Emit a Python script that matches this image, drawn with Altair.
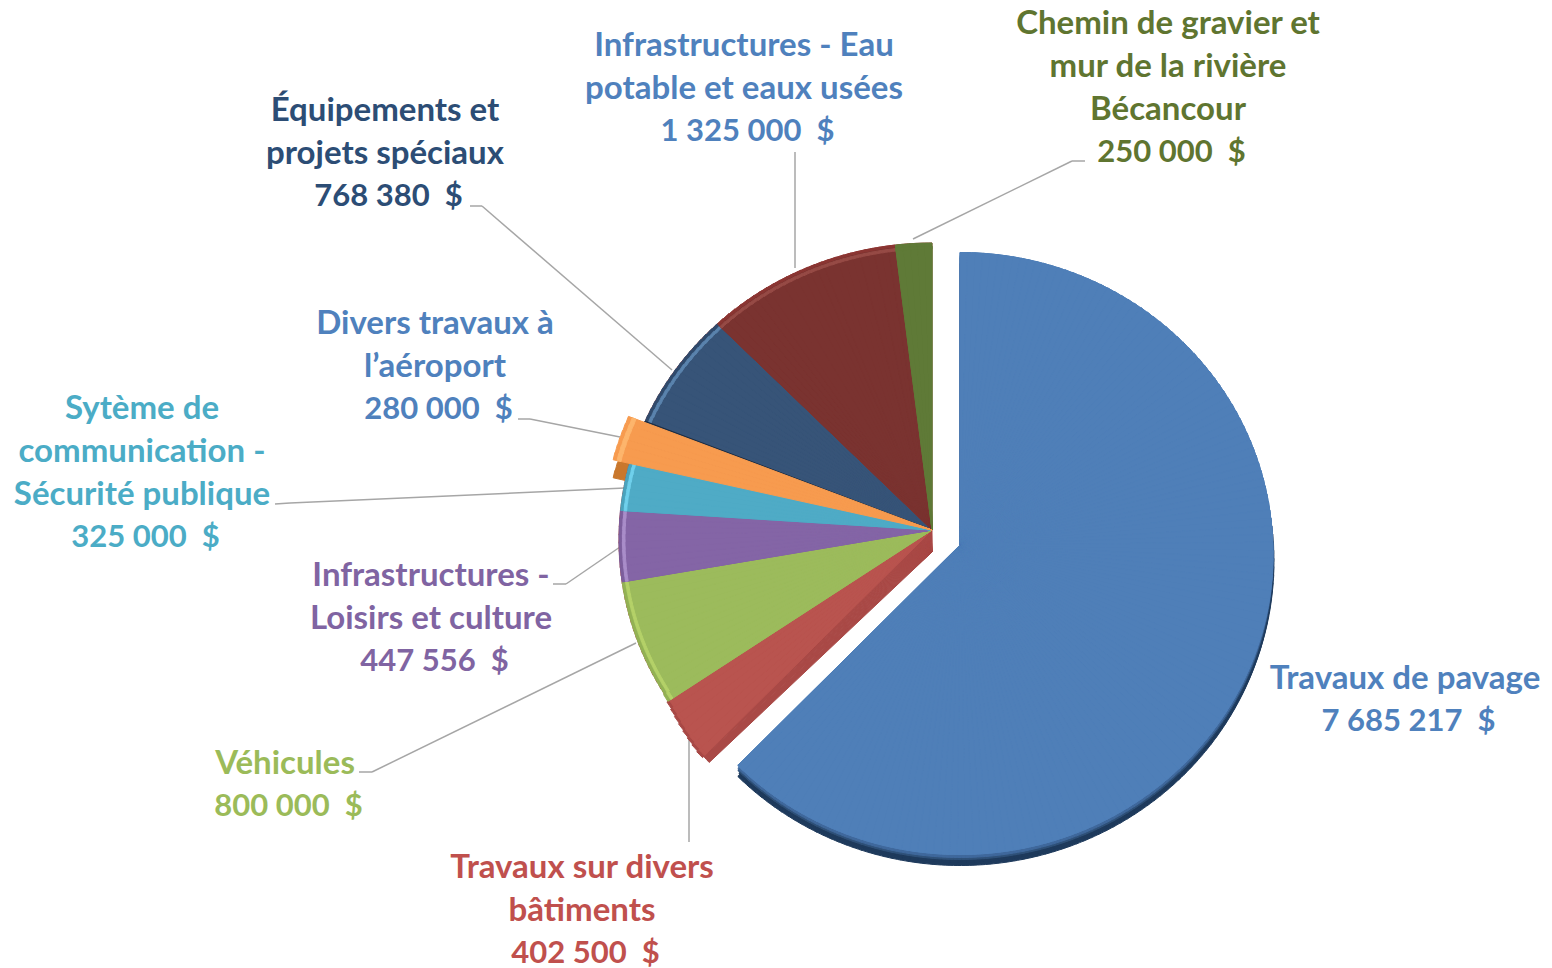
import math
import altair as alt
import pandas as pd

# ---- data -------------------------------------------------------------
names = [
    "Travaux de pavage",
    "Travaux sur divers\nbâtiments",
    "Véhicules",
    "Infrastructures -\nLoisirs et culture",
    "Sytème de\ncommunication -\nSécurité publique",
    "Divers travaux à\nl’aéroport",
    "Équipements et\nprojets spéciaux",
    "Infrastructures - Eau\npotable et eaux usées",
    "Chemin de gravier et\nmur de la rivière\nBécancour",
]
values = [7685217, 402500, 800000, 447556, 325000, 280000, 768380, 1325000, 250000]

# ---- styles ------------------------------------------------------------
face = ["#4f7fb8", "#b9544f", "#9cbb5c", "#8465a6", "#4fabc6", "#f79b4f", "#375478", "#7a3330", "#5f7a37"]
band = ["#4f7fb8", "#b9544f", "#b4d168", "#a98dc9", "#6fd0ec", "#fdb56c", "#5a83ad", "#964a45", "#5f7a37"]
edge = ["#4f7fb8", "#a84845", "#93b254", "#7c5e9c", "#4aa3bd", "#f0953f", "#2f4a6c", "#8a3532", "#5f7a37"]
text_col = ["#4f81bd", "#c0504d", "#9bbb59", "#8064a2", "#4bacc6", "#4f81bd", "#2c4d75", "#4f81bd", "#5f7530"]
label_xy = [(1405, 663), (582, 852), (285, 748), (431, 560), (142, 393), (435, 308), (385, 95), (744, 30), (1168, 8)]
FONT = "Lato"
FS = 33
FS_MONEY = 31
LH = 43
M = 8  # page margin

# leader lines: pairs of end points
leaders = [
    [(1085, 161), (1072, 161), (913, 239)],
    [(795, 152), (795, 268)],
    [(470, 206), (482, 206), (672, 370)],
    [(518, 419), (530, 419), (620, 437)],
    [(275, 504), (290, 503), (625, 488)],
    [(553, 584), (566, 584), (620, 547)],
    [(359, 772), (372, 772), (636, 643)],
    [(689, 842), (689, 740)],
]

TOTAL = sum(values)
starts = [sum(values[:i]) for i in range(len(values))]
THETA = alt.Scale(domain=[0, TOTAL], range=[0, 2 * math.pi])
DEG = TOTAL / 360.0


def ray(v, a, b, dy):
    """distance from the apex to an ellipse along the direction of value v"""
    th = 2 * math.pi * v / TOTAL
    s, c = math.sin(th), math.cos(th)
    A = (s / a) ** 2 + (c / b) ** 2
    B = 2 * c * dy / b ** 2
    C = (dy / b) ** 2 - 1
    return (-B + math.sqrt(B * B - 4 * A * C)) / (2 * A)


def bulge(v):
    """the pie's lower left looks larger: it is the part nearest the viewer"""
    d = v / DEG
    return max(0.0, (239 - d) / 13) * 11 if d > 220 else 0.0


def wedges(v0, v1, color, a=313, b=297, dy=10, out=0, inner=None, bulged=True):
    n = max(2, math.ceil((v1 - v0) / DEG / 1.5))
    rows = []
    for k in range(n):
        t0 = v0 + (v1 - v0) * k / n
        t1 = v0 + (v1 - v0) * (k + 1) / n
        mid = (t0 + t1) / 2
        r = ray(mid, a, b, dy) + (bulge(mid) if bulged else 0)
        rows.append({"t0": t0, "t1": t1, "r": r + out,
                     "r0": 0 if inner is None else r + inner, "c": color})
    return rows


def arcs(rows, cx, cy):
    return (
        alt.Chart(pd.DataFrame(rows))
        .mark_arc(strokeWidth=1)
        .encode(
            theta=alt.Theta("t0:Q", scale=THETA),
            theta2=alt.Theta2("t1:Q"),
            radius=alt.Radius("r:Q", scale=None),
            radius2=alt.Radius2("r0:Q"),
            color=alt.Color("c:N", scale=None),
            stroke=alt.Stroke("c:N", scale=None),
            x=alt.value(cx - M),
            y=alt.value(cy - M),
        )
    )


layers = []

# leader lines
for pts in leaders:
    for p, q in zip(pts, pts[1:]):
        layers.append(
            alt.Chart(pd.DataFrame({"k": [0]}))
            .mark_rule(color="#a6a6a6", strokeWidth=1.5)
            .encode(x=alt.value(p[0] - M), y=alt.value(p[1] - M),
                    x2=alt.value(q[0] - M), y2=alt.value(q[1] - M))
        )

# main slice, pulled out, with its dark rim
MX, MY = 960, 545
mk = dict(a=313, b=301, dy=8.5, bulged=False)
v0, v1 = starts[0], starts[0] + values[0]
layers.append(arcs(wedges(v0, v1, "#1e3a5c", **mk), MX, MY + 11))
layers.append(arcs(wedges(v0, v1, "#1e3a5c", **mk), MX + 1, MY + 8))
layers.append(arcs(wedges(v0, v1, "#2f5179", **mk), MX, MY + 5))
layers.append(arcs(wedges(v0, v1, "#3f689c", **mk), MX, MY + 3))
layers.append(arcs(wedges(v0, v1, face[0], **mk), MX, MY))
layers.append(arcs(wedges(v0, v1, face[0], **mk), MX, MY))

# rest of the pie
CX, CY = 932, 530
iR, iO, iN = 1, 5, 6
vO0 = starts[iO] - 0.7 * DEG
vO1 = starts[iO] + values[iO] - 0.8 * DEG
# orange slice's side: only its outer part shows
layers.append(arcs(wedges(vO0, vO1, "#c9772c", out=17, inner=-60), CX, CY + 18))
# bevel of the red slice, running parallel to the gap (the faces cover most of it)
layers.append(arcs(wedges(starts[iR] + 1.4 * DEG, TOTAL, "#a94946", dy=-12), CX, CY + 22))
rest = []
for i in range(1, len(values)):
    if i == iO:
        continue
    s, e = starts[i], starts[i] + values[i]
    if i == iN:
        s = vO1
    rest += wedges(s, e, edge[i])
    rest += wedges(s, e, face[i], out=-3)
    rest += wedges(s, e, band[i], out=-3.5, inner=-6)
layers.append(arcs(rest, CX, CY))
# orange slice with a thin dark edge against the navy one
layers.append(arcs(wedges(vO1 - 0.1 * DEG, vO1 + 0.25 * DEG, "#1f2f45"), CX, CY))
layers.append(
    arcs(wedges(vO0, vO1, face[iO], out=17)
         + wedges(vO0, vO1, band[iO], out=13, inner=9), CX, CY)
)

# labels
for n, v, c, (x, y) in zip(names, values, text_col, label_xy):
    money = f"{v:,}".replace(",", " ") + "\u00a0\u00a0$"
    lines = n.count("\n") + 1
    layers.append(
        alt.Chart(pd.DataFrame({"t": [n]}))
        .mark_text(font=FONT, fontSize=FS, fontWeight="bold", lineBreak="\n", lineHeight=LH,
                   align="center", baseline="top", color=c)
        .encode(text="t:N", x=alt.value(x - M), y=alt.value(y - M))
    )
    layers.append(
        alt.Chart(pd.DataFrame({"t": [money]}))
        .mark_text(font=FONT, fontSize=FS_MONEY, fontWeight="bold",
                   align="center", baseline="top", color=c)
        .encode(text="t:N", x=alt.value(x + 3.5 - M), y=alt.value(y + LH * lines + 1 - M))
    )

chart = (
    alt.layer(*layers)
    .resolve_scale(color="independent", stroke="independent", theta="shared")
    .properties(width=1536, height=960, padding=0, background="white",
                autosize=alt.AutoSizeParams(type="none"))
    .configure_view(stroke=None)
)
chart.save("out.html", embed_options={"renderer": "svg", "actions": False})
